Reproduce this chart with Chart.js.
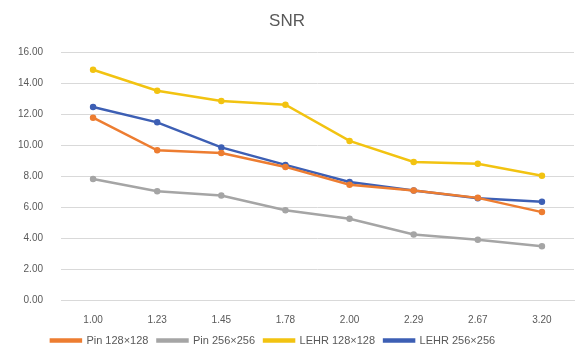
<!DOCTYPE html>
<html>
<head>
<meta charset="utf-8">
<script src="https://cdn.jsdelivr.net/npm/chart.js@4"></script>
<style>
  html, body { margin: 0; padding: 0; background: #ffffff; }
  #wrap { width: 575px; height: 356px; position: relative; }
</style>
</head>
<body>
<div id="wrap"><canvas id="chart"></canvas></div>
<script>
// Scale factors on the x axis
const categories = ['1.00', '1.23', '1.45', '1.78', '2.00', '2.29', '2.67', '3.20'];

// SNR per scale factor
const pin128  = [11.78, 9.67, 9.50, 8.60, 7.45, 7.08, 6.60, 5.68];
const pin256  = [7.82, 7.03, 6.75, 5.80, 5.25, 4.23, 3.90, 3.48];
const lehr128 = [14.88, 13.52, 12.86, 12.62, 10.28, 8.92, 8.80, 8.03];
const lehr256 = [12.47, 11.48, 9.86, 8.73, 7.62, 7.08, 6.58, 6.35];

const seriesNames = ['Pin 128×128', 'Pin 256×256', 'LEHR 128×128', 'LEHR 256×256'];
const seriesColors = ['#ED7D31', '#A5A5A5', '#F2C311', '#3D5FB4'];

const gridColor = '#D9D9D9';
const textColor = '#595959';
const fontFamily = '"Liberation Sans", Arial, sans-serif';

function series(i, data) {
  return {
    label: seriesNames[i],
    data: data,
    borderColor: seriesColors[i],
    backgroundColor: seriesColors[i],
    pointBackgroundColor: seriesColors[i],
    pointBorderColor: seriesColors[i],
    borderWidth: 2.5,
    pointRadius: 2,
    pointHoverRadius: 2,
    tension: 0
  };
}

// Nudge the bottom legend a little to the left of the canvas centre
const legendShift = {
  id: 'legendShift',
  afterLayout(chart) {
    if (chart.legend) {
      chart.legend.left -= 14;
      chart.legend.right -= 14;
    }
  }
};

new Chart(document.getElementById('chart'), {
  type: 'line',
  data: {
    labels: categories,
    datasets: [
      series(0, pin128),
      series(1, pin256),
      series(2, lehr128),
      series(3, lehr256)
    ]
  },
  plugins: [legendShift],
  options: {
    responsive: true,
    maintainAspectRatio: false,
    animation: false,
    devicePixelRatio: 1,
    layout: { autoPadding: false, padding: { left: 0, right: 1, top: 10, bottom: 0 } },
    plugins: {
      title: {
        display: true,
        text: 'SNR',
        color: textColor,
        font: { family: fontFamily, size: 17, weight: 'normal' },
        padding: { top: 1, bottom: 21 }
      },
      legend: {
        position: 'bottom',
        labels: {
          color: textColor,
          font: { family: fontFamily, size: 11 },
          boxWidth: 30,
          boxHeight: 2,
          padding: 9
        }
      },
      tooltip: { enabled: false }
    },
    scales: {
      x: {
        offset: true,
        afterFit: (scale) => {
          scale.height = 26;
          scale.paddingLeft = 0;
          scale.paddingRight = 0;
        },
        grid: { display: false, drawTicks: false },
        border: { display: true, color: gridColor, width: 1 },
        ticks: {
          color: textColor,
          font: { family: fontFamily, size: 10 },
          padding: 14,
          maxRotation: 0
        }
      },
      y: {
        min: 0,
        max: 16,
        afterFit: (scale) => { scale.width = 61; },
        grid: { color: gridColor, lineWidth: 1, drawTicks: false },
        border: { display: false },
        ticks: {
          stepSize: 2,
          color: textColor,
          font: { family: fontFamily, size: 10 },
          padding: 18,
          callback: (v) => Number(v).toFixed(2)
        }
      }
    }
  }
});
</script>
</body>
</html>
